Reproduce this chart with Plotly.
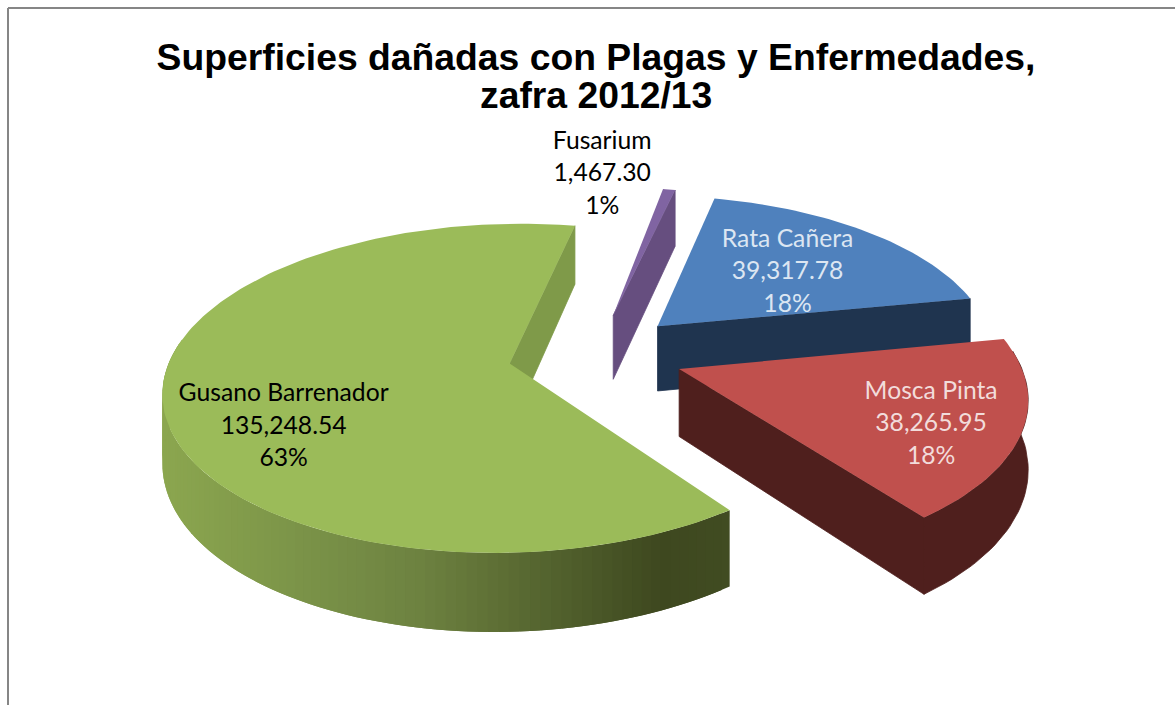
import math
import plotly.graph_objects as go

# ---- data (clockwise drawing order from the first angle)
categories = ["Gusano Barrenador", "Fusarium", "Rata Cañera", "Mosca Pinta"]
values = [135248.54, 1467.30, 39317.78, 38265.95]
percent_labels = ["63%", "1%", "18%", "18%"]

title_lines = ["Superficies dañadas con Plagas y Enfermedades,", "zafra 2012/13"]

# ---- style and view
top_colors = ["#9BBB59", "#8064A2", "#4F81BD", "#C0504D"]
radial_wall_colors = ["#7F9A49", "#664E7F", "#1F344F", "#4F1F1D"]
label_colors = ["#000000", "#000000", "#DCE6F2", "#F2DCDB"]
label_offsets = [(-226, 64), (-11, -140), (130, -53), (252, 56)]  # px from slice apex
first_angle = 143.3
explode = 0.26
CX, CY, R, B, H, K = 596.0, 354.0, 338.0, 158.0, 66.5, 0.15
green_wall_stops = [(165, "#8BA64F"), (360, "#748B45"), (420, "#6D8240"),
                    (660, "#3E481F"), (733, "#414C22")]
LINE_GAP = 32.5
FONT = "Lato"


def project(u, v, down=0.0):
    s = 1.0 / (1.0 + K * v)
    return CX + R * u * s, CY - B * v * s + down * H * s


def hex_rgb(c):
    return tuple(int(c[i:i + 2], 16) for i in (1, 3, 5))


def wall_color(x):
    st = green_wall_stops
    if x <= st[0][0]:
        return st[0][1]
    for (x0, c0), (x1, c1) in zip(st, st[1:]):
        if x <= x1:
            f = (x - x0) / (x1 - x0)
            a, b = hex_rgb(c0), hex_rgb(c1)
            return "#%02X%02X%02X" % tuple(round(a[i] + (b[i] - a[i]) * f) for i in range(3))
    return st[-1][1]


def poly(fig, pts, color, name, hover=True, edge=0.0):
    xs = [p[0] for p in pts] + [pts[0][0]]
    ys = [p[1] for p in pts] + [pts[0][1]]
    fig.add_trace(go.Scatter(x=xs, y=ys, mode="lines", fill="toself", fillcolor=color,
                             line=dict(color=color, width=edge), name=name,
                             hoverinfo="name" if hover else "skip", showlegend=False))


total = sum(values)
spans = [v / total * 360.0 for v in values]
starts = []
a = first_angle
for sp in spans:
    starts.append(a)
    a += sp

slices = []
for i, name in enumerate(categories):
    t0, t1 = starts[i], starts[i] + spans[i]
    mid = math.radians((t0 + t1) / 2)
    u0, v0 = explode * math.sin(mid), explode * math.cos(mid)
    slices.append(dict(i=i, name=name, t0=t0, t1=t1, u0=u0, v0=v0))

fig = go.Figure()
# painter's order: back slices first, the front-right slice last
for idx in [1, 0, 2, 3]:
    sl = slices[idx]
    t0, t1, u0, v0 = sl["t0"], sl["t1"], sl["u0"], sl["v0"]
    name = sl["name"]
    n = max(6, int((t1 - t0) / 1.5))
    angles = [t0 + (t1 - t0) * j / n for j in range(n + 1)]
    rim = [(u0 + math.sin(math.radians(t)), v0 + math.cos(math.radians(t))) for t in angles]

    # radial wall that faces the viewer
    for t, edge_pt, is_end in ((t0, rim[0], False), (t1, rim[-1], True)):
        sn = math.sin(math.radians(t))
        if (sn > 0) == is_end:
            poly(fig, [project(u0, v0), project(*edge_pt), project(*edge_pt, 1), project(u0, v0, 1)],
                 radial_wall_colors[idx], name, False, 0.8)

    # outer wall
    visible = [j for j in range(n)
               if math.cos(math.radians((angles[j] + angles[j + 1]) / 2)) < 0.12]
    if visible:
        if idx == 0:
            # shaded strips, each overlapping the next so that no seam shows
            for j in visible:
                k = min(j + 2, n)
                arc = rim[j:k + 1]
                col = wall_color((project(*rim[j])[0] + project(*rim[j + 1])[0]) / 2)
                poly(fig, [project(*p) for p in arc] + [project(*p, 1) for p in reversed(arc)],
                     col, name, False)
        else:
            arc = rim[visible[0]:visible[-1] + 2]
            poly(fig, [project(*p) for p in arc] + [project(*p, 1) for p in reversed(arc)],
                 radial_wall_colors[idx], name, False, 0.8)

    # top face
    poly(fig, [project(u0, v0)] + [project(*p) for p in rim], top_colors[idx], name)

# data labels
for sl in slices:
    i = sl["i"]
    ax, ay = project(sl["u0"], sl["v0"])
    lx, ly = ax + label_offsets[i][0], ay + label_offsets[i][1]
    rows = [categories[i], f"{values[i]:,.2f}", percent_labels[i]]
    fig.add_trace(go.Scatter(
        x=[lx] * 3, y=[ly - LINE_GAP, ly, ly + LINE_GAP], mode="text", text=rows,
        textposition="middle center", hoverinfo="skip", showlegend=False,
        textfont=dict(family=FONT, size=24.7, color=label_colors[i])))

fig.update_layout(
    width=1175, height=705, autosize=False,
    margin=dict(l=0, r=0, t=0, b=0),
    paper_bgcolor="white", plot_bgcolor="white",
    xaxis=dict(range=[0, 1175], visible=False, fixedrange=True, domain=[0, 1]),
    yaxis=dict(range=[705, 0], visible=False, fixedrange=True, domain=[0, 1]),
    title=dict(text=title_lines[0], x=596 / 1175, xanchor="center", y=1 - 57 / 705, yanchor="middle",
               font=dict(family="Liberation Sans", size=37.3, color="black", weight="bold")),
    annotations=[dict(text=title_lines[1], x=596, y=95, xref="x", yref="y", showarrow=False,
                      xanchor="center", yanchor="middle",
                      font=dict(family="Liberation Sans", size=37.3, color="black", weight="bold"))],
    shapes=[dict(type="line", xref="x", yref="y", x0=8, y0=8, x1=1175, y1=8,
                 line=dict(color="#868686", width=2)),
            dict(type="line", xref="x", yref="y", x0=8, y0=8, x1=8, y1=705,
                 line=dict(color="#868686", width=2))],
)
fig.write_html("out.html", config=dict(displayModeBar=False),
               post_script="document.body.style.margin='0';document.body.style.overflow='hidden';")
